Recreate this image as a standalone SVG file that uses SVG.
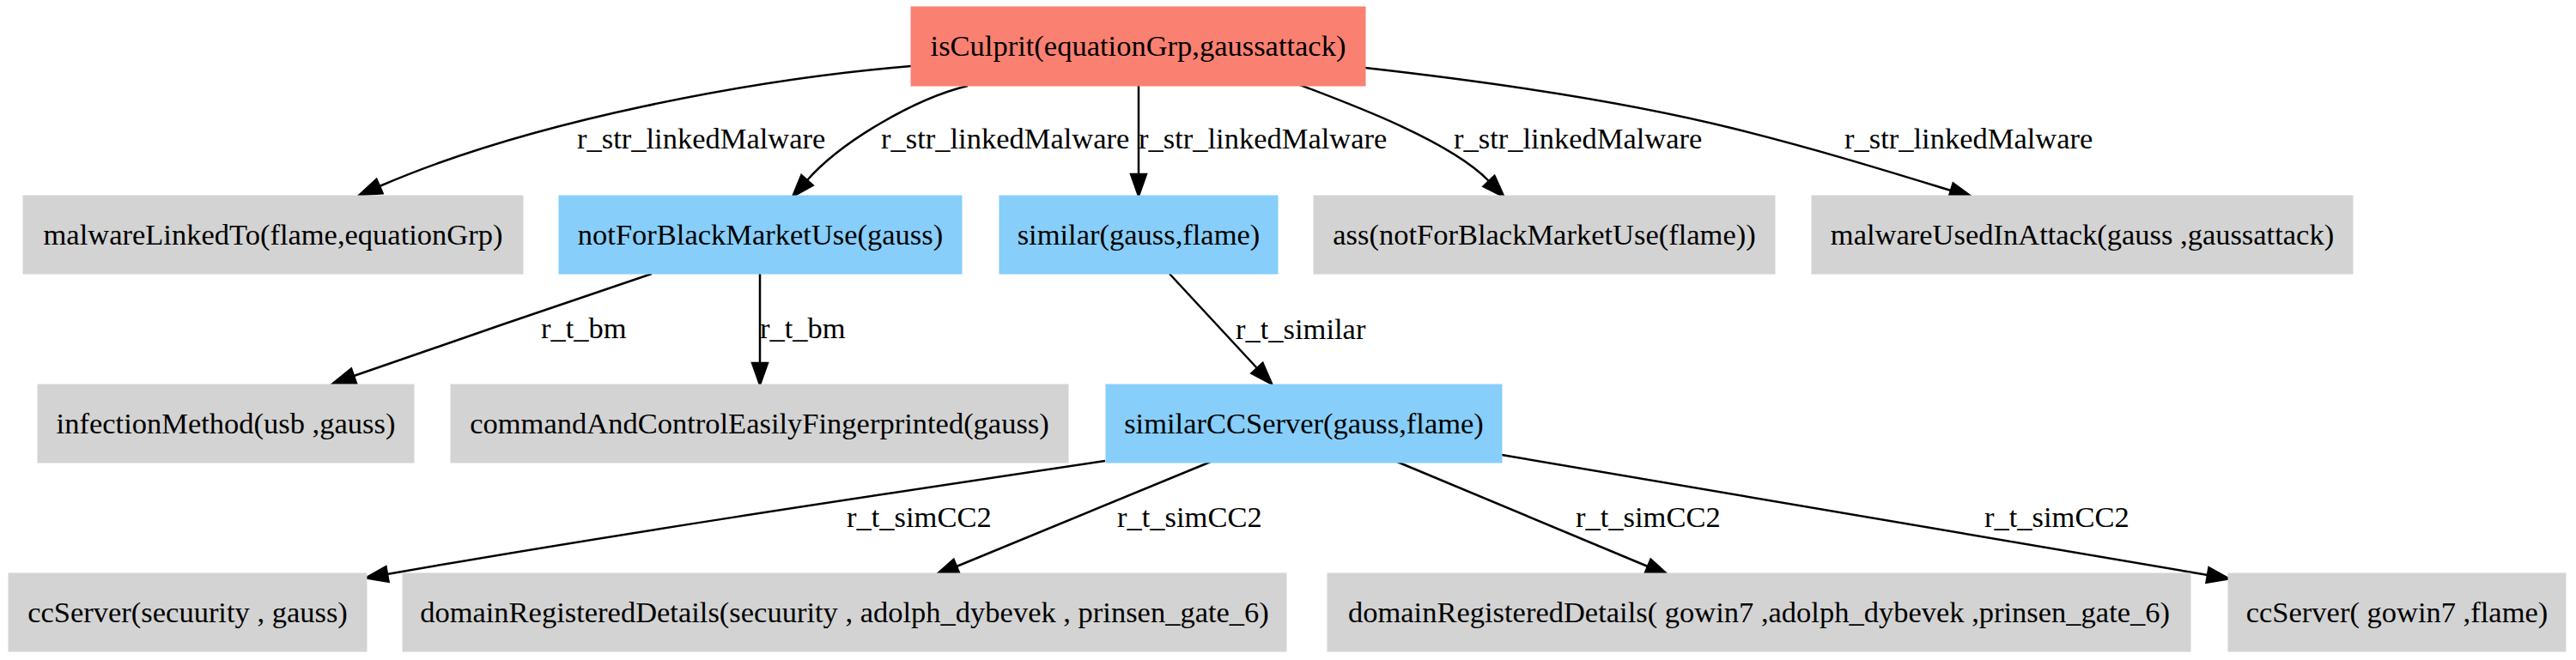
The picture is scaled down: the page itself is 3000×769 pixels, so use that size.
<svg xmlns="http://www.w3.org/2000/svg" width="3000" height="769" viewBox="0 0 3000 769">
<style>
.n text{font-family:"Liberation Serif","Times New Roman",serif;font-size:34.5px;fill:#000;text-anchor:middle}
.red{fill:#fa8072;stroke:#fa8072}
.blue{fill:#87cefa;stroke:#87cefa}
.grey{fill:#d3d3d3;stroke:#d3d3d3}
.e path{fill:none;stroke:#000;stroke-width:2.5;marker-end:url(#arr)}
.e text{font-family:"Liberation Serif","Times New Roman",serif;font-size:34.5px;fill:#000}
</style>
<defs>
<marker id="arr" markerUnits="userSpaceOnUse" markerWidth="30" markerHeight="22" viewBox="0 -11 30 22" refX="0" refY="0" orient="auto" overflow="visible">
<path d="M0,-8.9 L25.3,0 L0,8.9 Z" fill="#000" stroke="#000" stroke-width="2.5"/>
</marker>
</defs>
<rect width="3000" height="769" fill="#fff"/>
<g id="connectors" class="e">
<path d="M1061,77 C880,92 620,140 442,217"/>
<path d="M1127,100 C1065,115 980,165 940,210"/>
<path d="M1326,100 L1326,203"/>
<path d="M1514,99 C1575,122 1690,165 1734,211"/>
<path d="M1590,79 C1750,97 1900,120 2020,150 C2120,175 2200,200 2272,222"/>
<path d="M759,319 C650,356 520,400 412,438"/>
<path d="M885,319 L885,423"/>
<path d="M1362,319 L1464,429"/>
<path d="M1287,537 C1000,580 700,625 451,669"/>
<path d="M1410,538 L1114,660"/>
<path d="M1627,538 L1919,660"/>
<path d="M1749,530 L2571,670"/>
<text x="672" y="173">r_str_linkedMalware</text>
<text x="1026" y="173">r_str_linkedMalware</text>
<text x="1326" y="173">r_str_linkedMalware</text>
<text x="1693" y="173">r_str_linkedMalware</text>
<text x="2148" y="173">r_str_linkedMalware</text>
<text x="630" y="394">r_t_bm</text>
<text x="885" y="394">r_t_bm</text>
<text x="1439" y="395">r_t_similar</text>
<text x="986" y="614">r_t_simCC2</text>
<text x="1301" y="614">r_t_simCC2</text>
<text x="1835" y="614">r_t_simCC2</text>
<text x="2311" y="614">r_t_simCC2</text>
</g>
<g id="isCulprit" class="n"><rect class="red" x="1061" y="8" width="529" height="92"/><text x="1325.5" y="65">isCulprit(equationGrp,gaussattack)</text></g>
<g id="malwareLinkedTo" class="n"><rect class="grey" x="27" y="228" width="582" height="91"/><text x="318" y="285">malwareLinkedTo(flame,equationGrp)</text></g>
<g id="notForBlackMarketUse" class="n"><rect class="blue" x="651" y="228" width="469" height="91"/><text x="885.5" y="285">notForBlackMarketUse(gauss)</text></g>
<g id="similar" class="n"><rect class="blue" x="1164" y="228" width="324" height="91"/><text x="1326" y="285">similar(gauss,flame)</text></g>
<g id="ass" class="n"><rect class="grey" x="1530" y="228" width="537" height="91"/><text x="1798.5" y="285">ass(notForBlackMarketUse(flame))</text></g>
<g id="malwareUsedInAttack" class="n"><rect class="grey" x="2110" y="228" width="630" height="91"/><text x="2425" y="285">malwareUsedInAttack(gauss ,gaussattack)</text></g>
<g id="infectionMethod" class="n"><rect class="grey" x="44" y="448" width="438" height="91"/><text x="263" y="505">infectionMethod(usb ,gauss)</text></g>
<g id="commandAndControl" class="n"><rect class="grey" x="525" y="448" width="719" height="91"/><text x="884.5" y="505">commandAndControlEasilyFingerprinted(gauss)</text></g>
<g id="similarCCServer" class="n"><rect class="blue" x="1288" y="448" width="461" height="91"/><text x="1518.5" y="505">similarCCServer(gauss,flame)</text></g>
<g id="ccServer1" class="n"><rect class="grey" x="10" y="668" width="417" height="91"/><text x="218.5" y="725">ccServer(secuurity , gauss)</text></g>
<g id="domainReg1" class="n"><rect class="grey" x="469" y="668" width="1029" height="91"/><text x="983.5" y="725">domainRegisteredDetails(secuurity , adolph_dybevek , prinsen_gate_6)</text></g>
<g id="domainReg2" class="n"><rect class="grey" x="1546" y="668" width="1005" height="91"/><text x="2048.5" y="725">domainRegisteredDetails( gowin7 ,adolph_dybevek ,prinsen_gate_6)</text></g>
<g id="ccServer2" class="n"><rect class="grey" x="2595" y="668" width="393" height="91"/><text x="2791.5" y="725">ccServer( gowin7 ,flame)</text></g>
</svg>
